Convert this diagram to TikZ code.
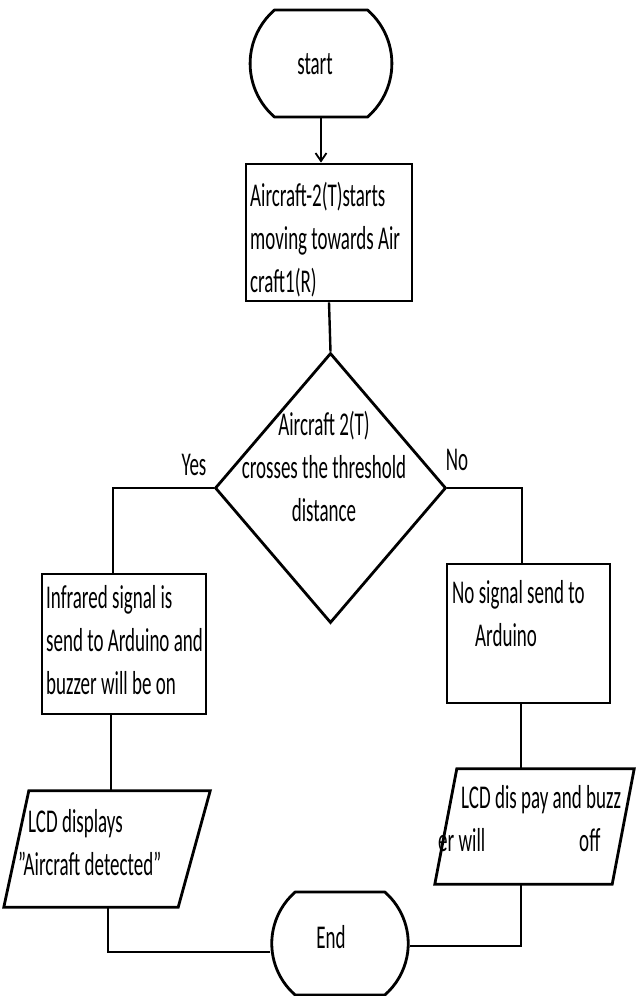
\documentclass[tikz,border=0pt]{standalone}
\usepackage{fontspec}
\setmainfont{Carlito}
\usepackage{graphicx}
\usetikzlibrary{shapes.geometric,shapes.misc,arrows.meta}
\newcommand{\txl}[1]{\scalebox{1}[1.75]{\begin{tabular}[t]{@{}l@{}}#1\end{tabular}}}
\newcommand{\txc}[1]{\scalebox{1}[1.75]{\begin{tabular}[t]{@{}c@{}}#1\end{tabular}}}
\newcommand{\dq}{\symbol{34}}
\tikzset{
  shp/.style={draw=black, line width=2.8pt, inner sep=0pt},
  term/.style={shp, rounded rectangle, rounded rectangle arc length=98},
  proc/.style={shp, rectangle},
  iobox/.style={rectangle, inner sep=0pt},
  ioline/.style={draw=black, line width=2.8pt, line join=miter},
  lbl/.style={inner sep=0pt, font=\fontsize{19}{24.6}\selectfont},
  conn/.style={draw=black, line width=2.4pt},
  arr/.style={conn, -{Straight Barb[length=8pt,width=11pt,line width=1.8pt]}}
}
\begin{document}
\begin{tikzpicture}[x=1pt,y=-1pt]
\useasboundingbox (0,0) rectangle (635,996);
\fill[white] (0,0) rectangle (635,996);
% shapes
\node[term, minimum width=134pt, minimum height=107pt] (start) at (321,63.5) {};
\node[proc, minimum width=166pt, minimum height=137pt] (proc) at (329,232.5) {};
\node[shp, diamond, aspect=0.855, minimum width=231pt, minimum height=270pt] (dec) at (330.5,488) {};
\node[proc, minimum width=164pt, minimum height=140pt] (inf) at (124,644) {};
\node[proc, minimum width=163pt, minimum height=139pt] (nos) at (528.5,633.5) {};
\node[iobox, minimum width=206pt, minimum height=116pt] (lcd1) at (107,849) {};
\draw[ioline] ([xshift=25pt]lcd1.north west) -- (lcd1.north east) -- ([xshift=-32pt]lcd1.south east) -- (lcd1.south west) -- cycle;
\node[iobox, minimum width=199pt, minimum height=115pt] (lcd2) at (534.5,826.5) {};
\draw[ioline] ([xshift=22pt]lcd2.north west) -- (lcd2.north east) -- ([xshift=-22pt]lcd2.south east) -- (lcd2.south west) -- cycle;
\node[term, minimum width=134pt, minimum height=103pt] (end) at (340,943.5) {};
% texts
\node[lbl, anchor=base] (tstart) at (315,74) {\txc{start}};
\node[lbl, anchor=base west] (tproc) at (250,206) {\txl{Aircraft-2(T)starts\\moving towards Air\\craft1(R)}};
\node[lbl, anchor=base] (tdec) at (324,435) {\txc{Aircraft 2(T)\\crosses the threshold\\distance}};
\node[lbl, anchor=base] (tyes) at (194,475) {\txc{Yes}};
\node[lbl, anchor=base] (tno) at (457,470) {\txc{No}};
\node[lbl, anchor=base west] (tinf) at (46,608) {\txl{Infrared signal is\\send to Arduino and\\buzzer will be on}};
\node[lbl, anchor=base west] (tnos) at (452,603) {\txl{No signal send to\\\hspace*{23pt}Arduino}};
\node[lbl, anchor=base west] (tlcd1) at (18,832) {\txl{\hspace*{10pt}LCD displays\\\dq Aircraft detected\dq}};
\node[lbl, anchor=base west] (tlcd2) at (438,808) {\txl{\hspace*{23pt}LCD dis pay and buzz\\er will\hspace*{94pt}off}};
\node[lbl, anchor=base] (tend) at (331,948) {\txc{End}};
% connectors
\draw[arr] (start.south) -- (start.south |- proc.north);
\draw[conn] (proc.south) -- (dec.north);
\draw[conn] (dec.west) -| ([xshift=-11pt]inf.north);
\draw[conn] (dec.east) -| ([xshift=-6.5pt]nos.north);
\draw[conn] ([xshift=-13pt]inf.south) -- ([xshift=-13pt]inf.south |- lcd1.north);
\draw[conn] ([xshift=-7.5pt]nos.south) -- ([xshift=-7.5pt]nos.south |- lcd2.north);
\draw[conn] ([xshift=1pt]lcd1.south) |- ([yshift=-8.5pt]end.west);
\draw[conn] ([xshift=-13.5pt]lcd2.south) |- ([yshift=-2.5pt]end.east);
\end{tikzpicture}
\end{document}
